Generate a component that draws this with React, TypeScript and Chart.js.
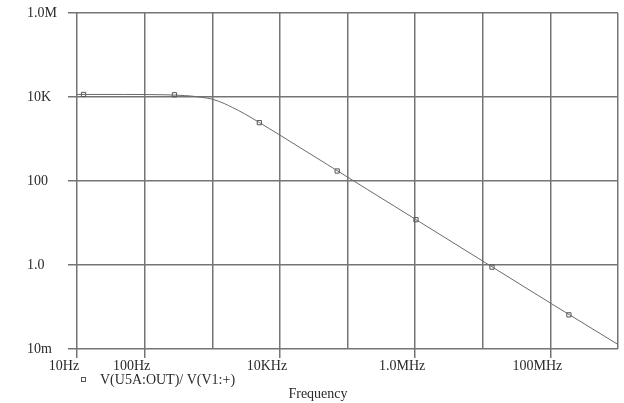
import React, { useEffect, useRef } from 'react';
import { Chart, registerables } from 'chart.js';

Chart.register(...registerables);

// Frequency response (Hz -> gain)
const frequencies = [10, 50, 100, 200, 300, 500, 700, 1000, 1500, 2000, 3000, 5000, 7000, 1e4, 2e4, 5e4, 1e5, 2e5, 5e5, 1e6, 1e7, 1e8, 1e9];
const gains = [11500, 11500, 11450, 11300, 11050, 10500, 9800, 8900, 7000, 5600, 4000, 2450, 1760, 1240, 620, 248, 124, 62, 24.8, 12.4, 1.24, 0.124, 0.0128];

// Trace markers (small squares) along the curve
const markerFrequencies = [12.5, 276, 4970, 70500, 1.03e6, 1.37e7, 1.88e8];
const markerGains = [11500, 11300, 2450, 173, 12.0, 0.89, 0.065];

const xTickValues = [10, 100, 1e3, 1e4, 1e5, 1e6, 1e7, 1e8, 1e9];
const xTickLabels = ['10Hz', '100Hz', '', '10KHz', '', '1.0MHz', '', '100MHz', ''];
const yTickValues = [0.01, 1, 100, 1e4, 1e6];
const yTickLabels = ['10m', '1.0', '100', '10K', '1.0M'];

const seriesLabel = 'V(U5A:OUT)/ V(V1:+)';
const xTitle = 'Frequency';

const FONT = '"Liberation Serif", "Times New Roman", serif';
const TEXT = '#2a2a2a';
const GRID = '#747474';

const legendPlugin = {
  id: 'pspiceLegend',
  afterDraw(chart: any) {
    const ctx = chart.ctx;
    ctx.save();
    ctx.strokeStyle = '#555';
    ctx.lineWidth = 1;
    ctx.strokeRect(81.5, 377.5, 4, 4);
    ctx.fillStyle = TEXT;
    ctx.font = `14px ${FONT}`;
    ctx.textBaseline = 'middle';
    ctx.textAlign = 'left';
    ctx.fillText(chart.data.datasets[0].label, 100, 380);
    ctx.textAlign = 'center';
    ctx.fillText(xTitle, 318, 394);
    ctx.restore();
  },
};

export default function App() {
  const ref = useRef<HTMLCanvasElement | null>(null);

  useEffect(() => {
    if (!ref.current) return;
    const chart = new Chart(ref.current, {
      type: 'line',
      data: {
        datasets: [
          {
            label: seriesLabel,
            data: frequencies.map((f, i) => ({ x: f, y: gains[i] })),
            borderColor: '#6a6a6a',
            borderWidth: 1,
            pointRadius: 0,
            cubicInterpolationMode: 'monotone',
            fill: false,
          },
          {
            label: 'markers',
            data: markerFrequencies.map((f, i) => ({ x: f, y: markerGains[i] })),
            showLine: false,
            pointStyle: 'rect',
            pointRadius: 3,
            pointBorderWidth: 1,
            pointBorderColor: '#555',
            pointBackgroundColor: 'rgba(255,255,255,0)',
          },
        ],
      },
      options: {
        responsive: false,
        animation: false,
        layout: { padding: { left: 27, right: 6, top: 13, bottom: 0 } },
        plugins: {
          legend: { display: false },
          tooltip: { enabled: false },
        },
        scales: {
          x: {
            type: 'logarithmic',
            min: 10,
            max: 1e9,
            afterBuildTicks: (s: any) => {
              s.ticks = xTickValues.map((v) => ({ value: v }));
            },
            afterFit: (s: any) => {
              s.height = 54;
            },
            border: { display: false },
            grid: {
              color: GRID,
              lineWidth: 1.5,
              tickLength: 9,
              tickWidth: 1.5,
              tickColor: (c: any) => (xTickLabels[c.index] ? GRID : 'rgba(0,0,0,0)'),
            },
            ticks: {
              autoSkip: false,
              maxRotation: 0,
              padding: 0,
              labelOffset: -13,
              color: TEXT,
              font: { family: FONT, size: 14 },
              callback: (_v: any, i: number) => xTickLabels[i],
            },
          },
          y: {
            type: 'logarithmic',
            min: 0.01,
            max: 1e6,
            afterBuildTicks: (s: any) => {
              s.ticks = yTickValues.map((v) => ({ value: v }));
            },
            afterFit: (s: any) => {
              s.width = 50;
            },
            border: { display: false },
            grid: {
              color: GRID,
              lineWidth: 1.5,
              tickLength: 9,
              tickWidth: 1.5,
              tickColor: GRID,
            },
            ticks: {
              autoSkip: false,
              crossAlign: 'far',
              padding: 0,
              color: TEXT,
              font: { family: FONT, size: 14 },
              callback: (_v: any, i: number) => yTickLabels[i],
            },
          },
        },
      },
      plugins: [legendPlugin],
    });
    return () => chart.destroy();
  }, []);

  return (
    <div style={{ position: 'fixed', left: 0, top: 0, width: 624, height: 403, background: '#fff' }}>
      <canvas ref={ref} width={624} height={403} />
    </div>
  );
}
